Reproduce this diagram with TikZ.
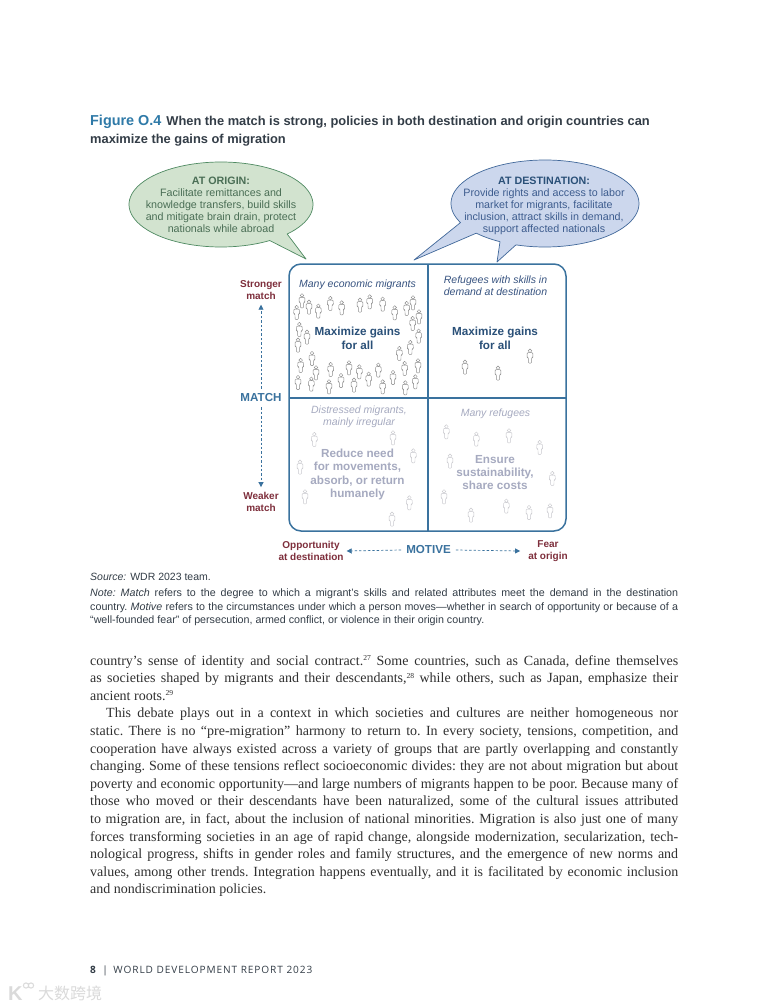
\documentclass[tikz,border=0pt]{standalone}
\usepackage{fontspec}
\usetikzlibrary{arrows.meta}
\setmainfont{Liberation Serif}
\setsansfont{Liberation Sans}
\newfontfamily\footfont[LetterSpace=9]{Open Sans}
\newfontfamily\cjkfont{Noto Sans CJK SC}
\definecolor{boxblue}{HTML}{3A729E}
\definecolor{figblue}{HTML}{2F7AA8}
\definecolor{titledark}{HTML}{333D47}
\definecolor{labred}{HTML}{7E2F3C}
\definecolor{headblue}{HTML}{2A5078}
\definecolor{fadetext}{HTML}{A6AAC0}
\definecolor{greenfill}{HTML}{D2E3CF}
\definecolor{greenline}{HTML}{4F8A62}
\definecolor{greentext}{HTML}{4A6E55}
\definecolor{bluefill}{HTML}{CCD7ED}
\definecolor{blueline}{HTML}{41689A}
\definecolor{bluetext}{HTML}{3D5C8E}
\definecolor{bodytext}{HTML}{303030}
\definecolor{personline}{HTML}{8C8C8C}
\definecolor{personfade}{HTML}{C9C9CE}
\definecolor{wmgray}{HTML}{DADADA}
\tikzset{
  x=1pt,y=-1pt,
  pics/person/.style={code={
    \draw[line width=.45pt,fill=white,rounded corners=.9pt,draw=#1]
      (-2.8,-3.3)--(2.8,-3.3)--(3,1.4)--(1.7,1.6)--(1.6,7.2)--(-1.6,7.2)--(-1.7,1.6)--(-3,1.4)--cycle;
    \draw[line width=.45pt,fill=white,draw=#1] (0,-5.2) circle (1.8);
  }},
  bubgreen/.style={fill=greenfill,draw=greenline,line width=.7pt,line join=round},
  bubblue/.style={fill=bluefill,draw=blueline,line width=.7pt,line join=round},
  bubtxt/.style={font=\sffamily\fontsize{10.7}{12}\selectfont,align=center,inner sep=0pt},
  quadhead/.style={font=\sffamily\bfseries\fontsize{11.7}{13.4}\selectfont,align=center,inner sep=0pt},
  quadsub/.style={font=\sffamily\itshape\fontsize{10.5}{12}\selectfont,align=center,inner sep=0pt},
  sidelab/.style={font=\sffamily\bfseries\fontsize{10}{12}\selectfont,text=labred,align=center,inner sep=0pt},
  axislab/.style={font=\sffamily\bfseries\fontsize{11.6}{13}\selectfont,text=boxblue,inner sep=0pt},
  axisarrow/.style={draw=boxblue,line width=.7pt,dash pattern=on 2.4pt off 2pt,-{Triangle[length=5pt,width=5pt]}},
  linetxt/.style={anchor=base west,inner sep=0pt},
  bodyfont/.style={font=\frenchspacing\fontsize{14}{15}\selectfont,text=bodytext},
  notefont/.style={font=\frenchspacing\sffamily\fontsize{10.7}{12}\selectfont,text=titledark},
}
\newcommand{\bline}[3]{\node[linetxt,bodyfont] (#1) at (90,#2) {\makebox[588pt][s]{#3}};}
\newcommand{\nline}[3]{\node[linetxt,notefont] (#1) at (90,#2) {\makebox[588pt][s]{#3}};}
\newcommand{\sref}[1]{\raisebox{4.6pt}{\fontsize{7.6}{8}\selectfont #1}}
\begin{document}
\begin{tikzpicture}
\useasboundingbox (0,0) rectangle (768,1008);
\fill[white] (0,0) rectangle (768,1008);

% title
\node[linetxt,font=\sffamily\bfseries\fontsize{12.85}{16}\selectfont,text=titledark] (title1) at (90,126)
  {\textcolor{figblue}{\fontsize{14.4}{16}\selectfont Figure O.4}\hspace{5pt}When the match is strong, policies in both destination and origin countries can};
\node[linetxt,font=\sffamily\bfseries\fontsize{12.85}{16}\selectfont,text=titledark] (title2) at (90,144) {maximize the gains of migration};

% bubbles
\draw[bubgreen] plot[domain=58:404,samples=90,smooth] ({221+92*cos(\x)},{204.5+42.5*sin(\x)}) -- (306,259) -- cycle;
\draw[bubblue] plot[domain=154:468,samples=90,smooth] ({545+94*cos(\x)},{203.5+43.5*sin(\x)})
  -- (497,262) -- plot[domain=118.6:137,samples=8,smooth] ({545+94*cos(\x)},{203.5+43.5*sin(\x)}) -- (414,260) -- cycle;
\node[bubtxt,text=greentext] (origin) at (221,204.5) {\textbf{AT ORIGIN:}\\Facilitate remittances and\\knowledge transfers, build skills\\and mitigate brain drain, protect\\nationals while abroad};
\node[bubtxt,text=bluetext] (dest) at (544,205.5) {\textbf{\textcolor{headblue}{AT DESTINATION:}}\\Provide rights and access to labor\\market for migrants, facilitate\\inclusion, attract skills in demand,\\support affected nationals};

% matrix box
\draw[boxblue,line width=1.5pt,rounded corners=12pt] (289,264) rectangle (566,531);
\coordinate (dt) at (428,264); \coordinate (db) at (428,531);
\coordinate (dl) at (289,398); \coordinate (dr) at (566,398);
\draw[boxblue,line width=1.3pt] (dt) -- (db);
\draw[boxblue,line width=1.3pt] (dl) -- (dr);

% people, strong match
\foreach \a/\b in {216/122,200/157,237/141,265/153,301/130,335/143,390/135,419/125,458/132,494/158,530/145,549/128,567/170,548/190,208/208,231/231,204/255,566/228,541/262,508/280,246/295,212/316,258/338,204/367,244/372,302/328,357/323,388/335,445/330,416/357,333/361,297/380,372/375,458/380,489/352,524/325,564/317,556/365,526/383}
  \pic at ({230+\a/3},{260+\b/3}) {person=personline};
\foreach \a/\b in {465/367,498/373,530/356}
  \pic at (\a,\b) {person=personline};
% people, weak match
\foreach \a/\b in {253/133,489/128,550/182,210/216,225/305,538/323,486/372}
  \pic at ({230+\a/3},{395+\b/3}) {person=personfade};
\foreach \a/\b in {64/110,154/132,252/122,344/157,75/198,382/250,57/305,244/333,138/360,312/352,375/347}
  \pic at ({425+\a/3},{395+\b/3}) {person=personfade};

% quadrant text
\node[quadsub,text=bluetext!90!black] (q1s) at (357.5,284.5) {Many economic migrants};
\node[quadsub,text=bluetext!90!black] (q2s) at (495.5,285.5) {Refugees with skills in\\demand at destination};
\node[quadsub,text=fadetext] (q3s) at (359,416.5) {Distressed migrants,\\mainly irregular};
\node[quadsub,text=fadetext] (q4s) at (495.5,413.5) {Many refugees};
\node[quadhead,text=headblue] (q1h) at (357.5,338.5) {Maximize gains\\for all};
\node[quadhead,text=headblue] (q2h) at (495,338.5) {Maximize gains\\for all};
\node[quadhead,text=fadetext] (q3h) at (357.5,474.5) {Reduce need\\for movements,\\absorb, or return\\humanely};
\node[quadhead,text=fadetext] (q4h) at (495,472.5) {Ensure\\sustainability,\\share costs};

% axes
\node[sidelab] (strong) at (261,290) {Stronger\\match};
\node[axislab] (match) at (261,398) {MATCH};
\node[sidelab] (weak) at (261,502) {Weaker\\match};
\node[sidelab] (opp) at (311,551) {Opportunity\\at destination};
\node[axislab] (motive) at (428.5,550) {MOTIVE};
\node[sidelab] (fear) at (548,551) {Fear\\at origin};
\draw[axisarrow] (match.north) ++(0,-5) -- ([yshift=-5pt]strong.south);
\draw[axisarrow] (match.south) ++(0,5) -- ([yshift=5pt]weak.north);
\draw[axisarrow] (motive.west) ++(-5,0) -- ([xshift=3pt]opp.east);
\draw[axisarrow] (motive.east) ++(5,0) -- ([xshift=-8pt]fear.west);

% source and note
\node[linetxt,font=\sffamily\fontsize{10.5}{12}\selectfont,text=titledark] (src) at (90,580) {\textit{Source:} WDR 2023 team.};
\nline{n1}{596}{\textit{Note: Match} refers to the degree to which a migrant’s skills and related attributes meet the demand in the destination}
\nline{n2}{610}{country. \textit{Motive} refers to the circumstances under which a person moves—whether in search of opportunity or because of a}
\node[linetxt,notefont] (n3) at (90,623) {“well-founded fear” of persecution, armed conflict, or violence in their origin country.};

% body
\bline{b1}{665}{country’s sense of identity and social contract.\sref{27} Some countries, such as Canada, define themselves}
\bline{b2}{682.6}{as societies shaped by migrants and their descendants,\sref{28} while others, such as Japan, emphasize their}
\node[linetxt,bodyfont] (b3) at (90,700.2) {ancient roots.\sref{29}};
\node[linetxt,bodyfont] (b4) at (106,717.8) {\makebox[572pt][s]{This debate plays out in a context in which societies and cultures are neither homogeneous nor}};
\bline{b5}{735.4}{static. There is no “pre-migration” harmony to return to. In every society, tensions, competition, and}
\bline{b6}{753}{cooperation have always existed across a variety of groups that are partly overlapping and constantly}
\bline{b7}{770.6}{changing. Some of these tensions reflect socioeconomic divides: they are not about migration but about}
\bline{b8}{788.2}{poverty and economic opportunity—and large numbers of migrants happen to be poor. Because many of}
\bline{b9}{805.8}{those who moved or their descendants have been naturalized, some of the cultural issues attributed}
\bline{b10}{823.4}{to migration are, in fact, about the inclusion of national minorities. Migration is also just one of many}
\bline{b11}{841}{forces transforming societies in an age of rapid change, alongside modernization, secularization, tech-}
\bline{b12}{858.6}{nological progress, shifts in gender roles and family structures, and the emergence of new norms and}
\bline{b13}{876.2}{values, among other trends. Integration happens eventually, and it is facilitated by economic inclusion}
\node[linetxt,bodyfont] (b14) at (90,893.8) {and nondiscrimination policies.};

% footer
\node[linetxt,font=\footfont\fontsize{10.1}{12}\selectfont,text=titledark] (foot) at (90,973) {\textbf{8}\hspace{2pt} | \hspace{2pt}WORLD DEVELOPMENT REPORT 2023};

% watermark
\node[linetxt,font=\sffamily\bfseries\fontsize{20}{20}\selectfont,text=wmgray] (wmk) at (8,1000) {K};
\draw[wmgray,line width=1pt] (26,985.5) circle (2.6) (31,985.5) circle (2.6);
\node[linetxt,font=\cjkfont\fontsize{16}{16}\selectfont,text=wmgray] (wmt) at (38,999) {大数跨境};
\end{tikzpicture}
\end{document}
